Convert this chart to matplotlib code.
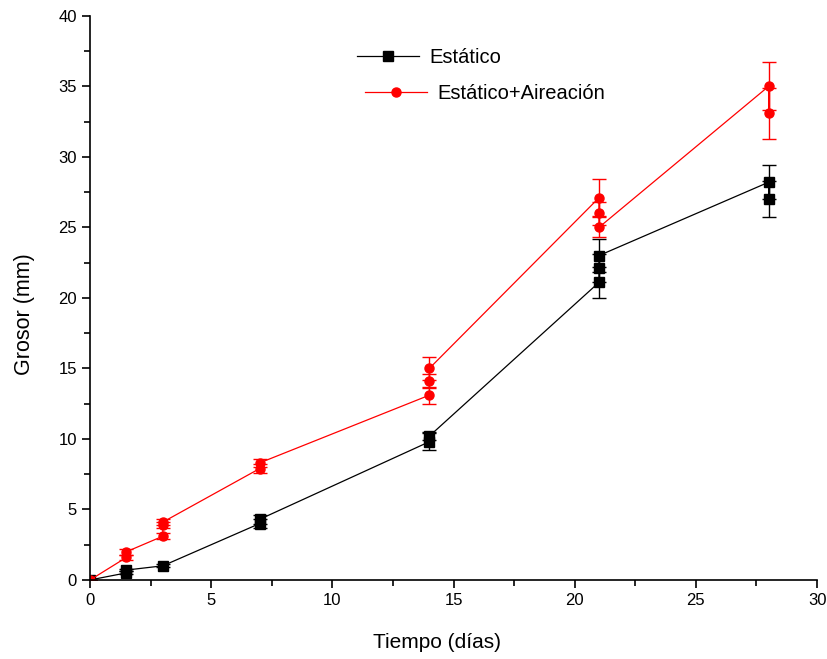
import matplotlib.pyplot as plt
from matplotlib.ticker import MultipleLocator

plt.rcParams['font.family'] = ['Liberation Sans', 'DejaVu Sans']

# Estatico (replicates at each day, in drawing order)
x_est = [0, 1.5, 1.5, 3, 7, 7, 14, 14, 21, 21, 21, 28, 28]
y_est = [0, 0.5, 0.7, 1.0, 4.0, 4.3, 9.8, 10.2, 21.1, 22.1, 23.0, 28.2, 27.0]
e_est = [0, 0.1, 0.1, 0.1, 0.3, 0.3, 0.6, 0.3, 1.1, 1.0, 1.2, 1.2, 1.3]

# Estatico + Aireacion
x_air = [0, 1.5, 1.5, 3, 3, 3, 7, 7, 14, 14, 14, 21, 21, 21, 28, 28]
y_air = [0, 1.6, 2.0, 3.1, 3.9, 4.1, 7.9, 8.3, 13.1, 14.1, 15.0, 27.1, 26.0, 25.0, 35.0, 33.1]
e_air = [0, 0.2, 0.2, 0.2, 0.2, 0.2, 0.3, 0.3, 0.6, 0.5, 0.8, 1.3, 0.8, 0.7, 1.7, 1.8]

fig = plt.figure(figsize=(8.27, 6.59), dpi=100)
ax = fig.add_axes([0.109, 0.12, 0.879, 0.856])

ax.errorbar(x_est, y_est, yerr=e_est, fmt='none', ecolor='black', elinewidth=1, capsize=5)
ax.errorbar(x_air, y_air, yerr=e_air, fmt='none', ecolor='red', elinewidth=1, capsize=5)
l1, = ax.plot(x_est, y_est, color='black', lw=0.9, marker='s', ms=7, label='Estático')
l2, = ax.plot(x_air, y_air, color='red', lw=0.9, marker='o', ms=6.5, label='Estático+Aireación')

ax.set_xlim(0, 30)
ax.set_ylim(0, 40)
ax.xaxis.set_major_locator(MultipleLocator(5))
ax.xaxis.set_minor_locator(MultipleLocator(2.5))
ax.yaxis.set_major_locator(MultipleLocator(5))
ax.yaxis.set_minor_locator(MultipleLocator(2.5))
ax.tick_params(which='major', direction='out', length=6, width=1.2, labelsize=12)
ax.tick_params(which='minor', direction='out', length=4, width=1.2)
ax.spines['top'].set_visible(False)
ax.spines['right'].set_visible(False)
ax.spines['left'].set_linewidth(1.2)
ax.spines['bottom'].set_linewidth(1.2)

ax.set_xlabel('Tiempo (días)', fontsize=15)
ax.set_ylabel('Grosor (mm)', fontsize=15.5)
ax.xaxis.set_label_coords(0.477, -0.094)
ax.yaxis.set_label_coords(-0.076, 0.472)

leg1 = ax.legend(handles=[l1], loc='upper left', bbox_to_anchor=(0.342, 0.975), frameon=False,
                 fontsize=14.5, handlelength=3.1, handletextpad=0.5)
ax.add_artist(leg1)
ax.legend(handles=[l2], loc='upper left', bbox_to_anchor=(0.353, 0.911), frameon=False,
          fontsize=14.5, handlelength=3.1, handletextpad=0.5)

fig.savefig('out.png', dpi=100)
